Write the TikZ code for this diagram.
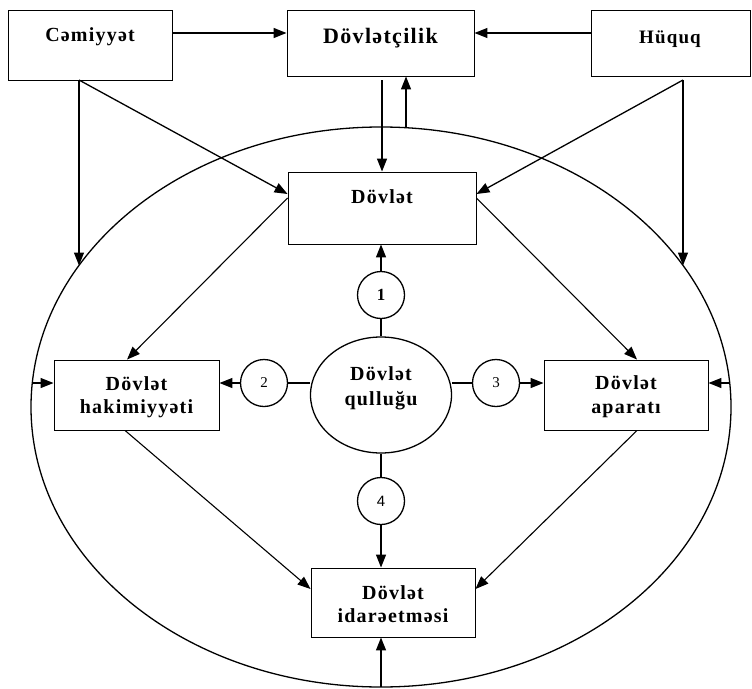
\documentclass[tikz,border=0pt]{standalone}
\usepackage{fontspec}
\setmainfont{Liberation Serif}
\newfontfamily\lab[LetterSpace=6.0]{Liberation Serif}
\newfontfamily\numsans{Liberation Sans}
\usetikzlibrary{arrows.meta,shapes.geometric}
\begin{document}
\begin{tikzpicture}[x=1pt,y=-1pt,
  box/.style={draw, rectangle, line width=0.9pt, inner sep=0pt},
  circ/.style={draw, circle, line width=1.3pt, minimum size=47pt, inner sep=0pt},
  arr/.style={-{Triangle[length=13pt,width=10pt]}, line width=1.3pt},
  thinarr/.style={-{Triangle[length=13pt,width=10pt]}, line width=1.1pt},
  link/.style={line width=1.3pt},
  lbl/.style={font=\lab\bfseries\fontsize{20}{24}\selectfont, inner sep=0pt, anchor=base},
]
\useasboundingbox (0,0) rectangle (752,688);

% outer ellipse
\node[draw, ellipse, line width=1.3pt, minimum width=700pt, minimum height=560pt, inner sep=0pt] (outer) at (381,407) {};

% boxes
\node[box, minimum width=164pt, minimum height=70pt] (cem) at (90,45) {};
\node[box, minimum width=187pt, minimum height=66pt] (dvc) at (380.5,43) {};
\node[box, minimum width=159pt, minimum height=66pt] (huq) at (670.5,43) {};
\node[box, minimum width=188pt, minimum height=72pt] (dov) at (382,208) {};
\node[box, minimum width=165pt, minimum height=70pt] (hak) at (136.5,395) {};
\node[box, minimum width=164pt, minimum height=70pt] (apa) at (626,395) {};
\node[box, minimum width=164pt, minimum height=69pt] (ida) at (393,602.5) {};

% central ellipse and numbered circles
\node[draw, ellipse, line width=1.3pt, minimum width=141pt, minimum height=116pt, inner sep=0pt] (q) at (381,395) {};
\node[circ, font=\bfseries\fontsize{17}{20}\selectfont] (c1) at (381,295) {1};
\node[circ, font=\fontsize{15}{18}\selectfont] (c2) at (264,383) {2};
\node[circ, font=\fontsize{15}{18}\selectfont] (c3) at (496,383) {3};
\node[circ, font=\numsans\fontsize{15}{18}\selectfont] (c4) at (381,501) {4};

% texts
\node[lbl] (cemT) at (90,41) {Cəmiyyət};
\node[lbl, font=\lab\bfseries\fontsize{22}{26}\selectfont] (dvcT) at (380.5,43) {Dövlətçilik};
\node[lbl, font=\lab\bfseries\fontsize{19}{23}\selectfont] (huqT) at (670,43) {Hüquq};
\node[lbl] (dovT) at (382,203) {Dövlət};
\node[lbl] (hakT1) at (136.5,390) {Dövlət};
\node[lbl] (hakT2) at (136.5,413) {hakimiyyəti};
\node[lbl] (qT1) at (381,380) {Dövlət};
\node[lbl] (qT2) at (381,405) {qulluğu};
\node[lbl] (apaT1) at (626,389) {Dövlət};
\node[lbl] (apaT2) at (626,413) {aparatı};
\node[lbl] (idaT1) at (393,599) {Dövlət};
\node[lbl] (idaT2) at (393,622) {idarəetməsi};

% free end points
\coordinate (cemB) at (79,80);
\coordinate (huqB) at (683,80);
\coordinate (dvcB) at (382,80);
\coordinate (eCem) at (79,265.5);
\coordinate (eHuq) at (683,265.5);
\coordinate (eTop) at (406,127.7);
\coordinate (eL) at (32.3,383);
\coordinate (eR) at (729.7,383);
\coordinate (eBot) at (381,687);

% top row
\draw[arr] ([yshift=12pt]cem.east) -- ([yshift=12pt]cem.east -| dvc.west);
\draw[arr] ([yshift=10pt]huq.west) -- ([yshift=10pt]huq.west -| dvc.east);

% from Cemiyyet and Huquq
\draw[link] (cem.south -| cemB) -- (cemB);
\draw[arr] (cemB) -- (eCem);
\draw[arr] (cemB) -- ([yshift=14pt]dov.west);
\draw[arr] (huqB) -- (eHuq);
\draw[arr] (huqB) -- ([yshift=14pt]dov.east);

% Dovletcilik <-> Dovlet
\draw[arr] (dvcB) -- (dvcB |- dov.north);
\draw[arr] (eTop) -- (eTop |- dvc.south);

% Dovlet to the side boxes
\draw[thinarr] ([yshift=10pt]dov.west) -- ([xshift=-9.5pt]hak.north);
\draw[thinarr] ([yshift=10pt]dov.east) -- ([xshift=11pt]apa.north);

% side boxes to idareetmesi
\draw[thinarr] ([xshift=-11.5pt]hak.south) -- ([yshift=13.5pt]ida.west);
\draw[thinarr] ([xshift=11pt]apa.south) -- ([yshift=13.5pt]ida.east);

% central links
\draw[link] (q) -- (c1);
\draw[arr] (c1) -- (c1 |- dov.south);
\draw[link] (c2.east) -- (c2.east -| q.west);
\draw[arr] (c2.west) -- (c2.west -| hak.east);
\draw[link] (c3.west) -- (c3.west -| q.east);
\draw[arr] (c3.east) -- (c3.east -| apa.west);
\draw[link] (q) -- (c4);
\draw[arr] (c4) -- (c4 |- ida.north);

% from the outer ellipse
\draw[arr] (eL) -- (eL -| hak.west);
\draw[arr] (eR) -- (eR -| apa.east);
\draw[arr] (eBot) -- (eBot |- ida.south);
\end{tikzpicture}
\end{document}
